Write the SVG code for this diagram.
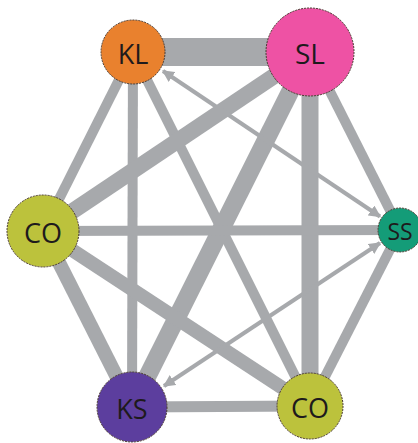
<svg xmlns="http://www.w3.org/2000/svg" width="418" height="443" viewBox="0 0 418 443">
<defs>
<style>
.e{stroke:#A7A9AC;fill:none;stroke-linecap:butt}
.n{stroke:#4a3a30;stroke-width:1;stroke-dasharray:2 1}
.t{font-family:"Open Sans","Liberation Sans",sans-serif;fill:#1e1a1c;text-anchor:middle;dominant-baseline:central}
</style>
<marker id="ah" viewBox="0 0 10 10" refX="9" refY="5" markerWidth="3" markerHeight="3" orient="auto-start-reverse" markerUnits="strokeWidth">
<path d="M0,0 L10,5 L0,10 z" fill="#A7A9AC"/>
</marker>
</defs>
<rect width="418" height="443" fill="#ffffff"/>
<g id="connectors">
<line class="e" x1="133" y1="52" x2="310" y2="52" stroke-width="28"/>
<line class="e" x1="133" y1="52" x2="43" y2="231" stroke-width="10"/>
<line class="e" x1="133" y1="52" x2="132" y2="407" stroke-width="10"/>
<line class="e" x1="133" y1="52" x2="310" y2="406" stroke-width="10"/>
<line class="e" x1="310" y1="52" x2="43" y2="231" stroke-width="16"/>
<line class="e" x1="310" y1="52" x2="400" y2="230" stroke-width="10"/>
<line class="e" x1="310" y1="52" x2="132" y2="407" stroke-width="18"/>
<line class="e" x1="310" y1="52" x2="310" y2="406" stroke-width="17"/>
<line class="e" x1="43" y1="231" x2="400" y2="230" stroke-width="10"/>
<line class="e" x1="43" y1="231" x2="132" y2="407" stroke-width="14"/>
<line class="e" x1="43" y1="231" x2="310" y2="406" stroke-width="14"/>
<line class="e" x1="400" y1="230" x2="310" y2="406" stroke-width="10"/>
<line class="e" x1="132" y1="407" x2="310" y2="406" stroke-width="11"/>
<line class="e" x1="163" y1="71" x2="380" y2="216.5" stroke-width="4" marker-start="url(#ah)" marker-end="url(#ah)"/>
<line class="e" x1="164" y1="386" x2="380" y2="243" stroke-width="4" marker-start="url(#ah)" marker-end="url(#ah)"/>
</g>
<g id="node-KL">
<circle class="n" cx="133" cy="52" r="32" fill="#E9812E"/>
<text class="t" x="133" y="53" font-size="27">KL</text>
</g>
<g id="node-SL">
<circle class="n" cx="310" cy="52" r="44" fill="#EE52A4"/>
<text class="t" x="310" y="53" font-size="28">SL</text>
</g>
<g id="node-CO-left">
<circle class="n" cx="43" cy="231" r="36" fill="#BCC23C"/>
<text class="t" x="43" y="232" font-size="27">CO</text>
</g>
<g id="node-SS">
<circle class="n" cx="400" cy="230" r="22" fill="#149C78"/>
<text class="t" x="400" y="231" font-size="23">SS</text>
</g>
<g id="node-KS">
<circle class="n" cx="132" cy="407" r="35" fill="#5C3E9E"/>
<text class="t" x="132" y="408" font-size="27">KS</text>
</g>
<g id="node-CO-bottom">
<circle class="n" cx="310" cy="406" r="33" fill="#BCC23C"/>
<text class="t" x="310" y="407" font-size="27">CO</text>
</g>
</svg>
